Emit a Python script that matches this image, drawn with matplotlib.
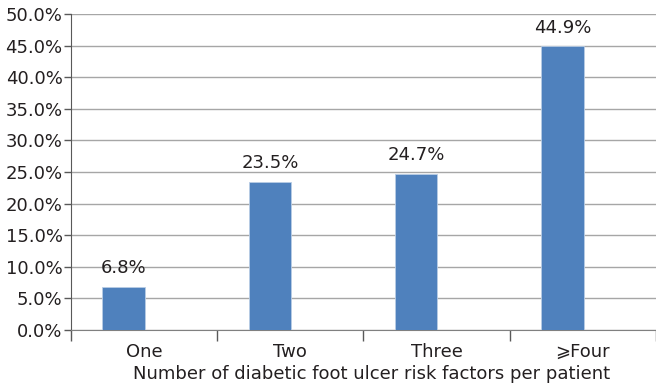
import matplotlib
matplotlib.use("Agg")
import matplotlib.pyplot as plt
import numpy as np

# risk factor groups and share of patients
categories = ["One", "Two", "Three", "\u2a7eFour"]
percent = [6.8, 23.5, 24.7, 44.9]

bar_color = "#4F81BD"
text_color = "#231F20"
fs = 13

plt.rcParams['font.family'] = ['DejaVu Sans', 'Noto Sans CJK SC']

fig = plt.figure(figsize=(6.56, 3.92), dpi=100)
ax = fig.add_axes([0.1082, 0.158, 0.8918, 0.806])

x = np.arange(len(categories))
offset = -0.14
bars = ax.bar(x + offset, percent, width=0.29, color=bar_color,
              edgecolor="#B9CDE5", linewidth=0.6, zorder=3)

for xi, v in zip(x, percent):
    ax.annotate("%.1f%%" % v, (xi + offset, v), xytext=(0, 7),
                textcoords="offset points", ha="center", va="bottom",
                fontsize=fs, color=text_color)

ax.set_xlim(-0.5, 3.466)
ax.set_ylim(0, 50)
yt = np.arange(0, 51, 5)
ax.set_yticks(yt)
ax.set_yticklabels(["%.1f%%" % t for t in yt], fontsize=fs, color=text_color)
ax.yaxis.grid(True, color="#A6A6A6", linewidth=1.0, zorder=0)

# category labels in the middle, tick marks on the boundaries
ax.set_xticks(x)
ax.set_xticklabels(categories, fontsize=fs, color=text_color)
ax.tick_params(axis="x", which="major", length=0, pad=9)
ax.set_xticks(np.arange(-0.5, 3.6, 1.0), minor=True)
ax.tick_params(axis="x", which="minor", length=8, color="#595959", width=1)
ax.tick_params(axis="y", length=5, color="#595959", width=1, pad=1)

ax.set_xlabel("Number of diabetic foot ulcer risk factors per patient",
              fontsize=fs, color=text_color)
ax.xaxis.set_label_coords(0.513, -0.11)

for side in ["top", "right"]:
    ax.spines[side].set_visible(False)
ax.spines["left"].set_color("#595959")
ax.spines["bottom"].set_color("#808080")
ax.spines["left"].set_bounds(0, 50)

plt.savefig("out.png", dpi=100)
